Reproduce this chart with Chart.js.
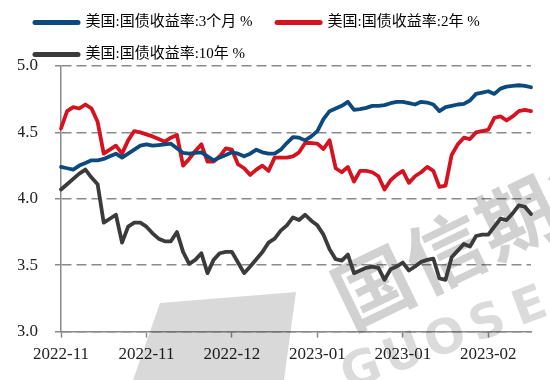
<!DOCTYPE html>
<html>
<head>
<meta charset="utf-8">
<script src="https://cdn.jsdelivr.net/npm/chart.js@4/dist/chart.umd.min.js"></script>
<style>
html,body{margin:0;padding:0;background:#fff;}
#wrap{width:550px;height:380px;position:relative;}
</style>
</head>
<body>
<div id="wrap"><canvas id="c"></canvas></div>
<script>
// ---- data ----
const dates = [
'2022-11-01','2022-11-02','2022-11-03','2022-11-04','2022-11-07','2022-11-08','2022-11-09','2022-11-10','2022-11-11','2022-11-14',
'2022-11-15','2022-11-16','2022-11-17','2022-11-18','2022-11-21','2022-11-22','2022-11-23','2022-11-25','2022-11-28','2022-11-29',
'2022-11-30','2022-12-01','2022-12-02','2022-12-05','2022-12-06','2022-12-07','2022-12-08','2022-12-09','2022-12-12','2022-12-13',
'2022-12-14','2022-12-15','2022-12-16','2022-12-19','2022-12-20','2022-12-21','2022-12-22','2022-12-23','2022-12-27','2022-12-28',
'2022-12-29','2022-12-30','2023-01-03','2023-01-04','2023-01-05','2023-01-06','2023-01-09','2023-01-10','2023-01-11','2023-01-12',
'2023-01-13','2023-01-17','2023-01-18','2023-01-19','2023-01-20','2023-01-23','2023-01-24','2023-01-25','2023-01-26','2023-01-27',
'2023-01-30','2023-01-31','2023-02-01','2023-02-02','2023-02-03','2023-02-06','2023-02-07','2023-02-08','2023-02-09','2023-02-10',
'2023-02-13','2023-02-14','2023-02-15','2023-02-16','2023-02-17','2023-02-21','2023-02-22','2023-02-23'
];
const tickStep = 14;

const seriesNames = ['美国:国债收益率:3个月 %', '美国:国债收益率:2年 %', '美国:国债收益率:10年 %'];

const yield3m = [
4.24,4.23,4.22,4.25,4.27,4.29,4.29,4.30,4.32,4.34,
4.31,4.34,4.37,4.40,4.41,4.40,4.405,4.41,4.415,4.38,
4.345,4.34,4.345,4.35,4.32,4.29,4.31,4.33,4.35,4.34,
4.32,4.34,4.37,4.35,4.34,4.34,4.37,4.42,4.465,4.46,
4.44,4.47,4.51,4.60,4.66,4.68,4.70,4.73,4.67,4.675,
4.685,4.70,4.70,4.705,4.72,4.73,4.73,4.72,4.71,4.73,
4.725,4.71,4.66,4.69,4.70,4.71,4.715,4.74,4.79,4.80,
4.81,4.79,4.83,4.845,4.85,4.855,4.85,4.84
];

const yield2y = [
4.53,4.66,4.69,4.68,4.71,4.68,4.58,4.34,4.37,4.40,
4.34,4.44,4.51,4.50,4.485,4.47,4.45,4.43,4.46,4.48,
4.25,4.30,4.36,4.41,4.28,4.28,4.32,4.38,4.37,4.26,
4.23,4.18,4.22,4.25,4.21,4.31,4.31,4.31,4.32,4.35,
4.42,4.42,4.415,4.375,4.44,4.23,4.20,4.24,4.13,4.21,
4.21,4.20,4.17,4.07,4.14,4.18,4.21,4.12,4.17,4.20,
4.24,4.21,4.09,4.10,4.33,4.41,4.46,4.45,4.50,4.51,
4.52,4.61,4.62,4.59,4.62,4.66,4.67,4.66
];

const yield10y = [
4.07,4.11,4.15,4.19,4.22,4.16,4.11,3.82,3.85,3.88,
3.67,3.79,3.82,3.82,3.79,3.74,3.70,3.68,3.68,3.75,
3.60,3.51,3.54,3.59,3.44,3.54,3.59,3.60,3.60,3.52,
3.44,3.49,3.545,3.60,3.67,3.70,3.76,3.80,3.86,3.84,
3.88,3.835,3.80,3.73,3.62,3.545,3.535,3.58,3.44,3.46,
3.48,3.49,3.48,3.39,3.47,3.49,3.52,3.46,3.49,3.525,
3.54,3.55,3.40,3.39,3.56,3.61,3.66,3.64,3.72,3.73,
3.73,3.79,3.85,3.84,3.89,3.95,3.94,3.885
];

const seriesColors = ['#0c4a7e', '#d5121f', '#3b3b3b'];
const yMin = 3.0, yMax = 5.0, yStep = 0.5;

// ---- watermark (light gray logo drawn under the lines) ----
const watermark = {
  id: 'watermark',
  beforeDatasetsDraw(chart) {
    const ctx = chart.ctx;
    ctx.save();
    ctx.fillStyle = 'rgba(0,0,0,0.15)';
    ctx.beginPath();
    ctx.moveTo(160, 303);
    ctx.lineTo(296, 292);
    ctx.lineTo(284, 380);
    ctx.lineTo(133, 380);
    ctx.closePath();
    ctx.fill();
    ctx.restore();

    ctx.save();
    ctx.fillStyle = 'rgba(0,0,0,0.18)';
    ctx.translate(373, 287);
    ctx.rotate(-0.45);
    ctx.font = 'bold 78px "Noto Sans CJK SC"';
    ctx.textAlign = 'center';
    ctx.textBaseline = 'middle';
    ['国', '信', '期', '货'].forEach((ch, i) => ctx.fillText(ch, i * 80, 0));
    ctx.restore();

    ctx.save();
    ctx.fillStyle = 'rgba(0,0,0,0.14)';
    ctx.translate(362, 372);
    ctx.rotate(-0.36);
    ctx.font = 'bold 48px "DejaVu Sans"';
    ctx.textAlign = 'center';
    ctx.textBaseline = 'middle';
    'GUOSEN'.split('').forEach((ch, i) => ctx.fillText(ch, i * 45, 0));
    ctx.restore();
  }
};

const tickFont = { family: "'Liberation Serif', 'Times New Roman', serif", size: 17 };
const gridGray = '#8a8a8a';
const legendHeight = 68;

const chart = new Chart(document.getElementById('c'), {
  type: 'line',
  data: {
    labels: dates,
    datasets: [
      { label: seriesNames[0], data: yield3m, borderColor: seriesColors[0], backgroundColor: seriesColors[0] },
      { label: seriesNames[1], data: yield2y, borderColor: seriesColors[1], backgroundColor: seriesColors[1] },
      { label: seriesNames[2], data: yield10y, borderColor: seriesColors[2], backgroundColor: seriesColors[2] }
    ]
  },
  options: {
    responsive: true,
    maintainAspectRatio: false,
    animation: false,
    datasets: {
      line: { borderWidth: 3.8, pointRadius: 0, tension: 0, borderJoinStyle: 'round', borderCapStyle: 'round', fill: false }
    },
    layout: { padding: { left: 18, right: 19, top: -2, bottom: 8 } },
    plugins: {
      tooltip: { enabled: false },
      legend: {
        position: 'top',
        align: 'start',
        labels: {
          usePointStyle: true,
          pointStyle: 'line',
          pointStyleWidth: 43,
          boxHeight: 15,
          padding: 17,
          color: '#222',
          font: { family: "'Liberation Serif', 'Noto Sans CJK SC', serif", size: 15 },
          generateLabels: chart => chart.data.datasets.map((ds, i) => ({
            text: i === 0 ? ds.label + '\u2002' : ds.label,
            fillStyle: ds.borderColor,
            strokeStyle: ds.borderColor,
            lineWidth: 5,
            lineCap: 'round',
            pointStyle: 'line',
            hidden: false,
            datasetIndex: i
          }))
        }
      }
    },
    scales: {
      x: {
        type: 'category',
        offset: false,
        grid: { display: true, drawOnChartArea: false, drawTicks: true, tickLength: 6, tickColor: gridGray, tickWidth: 1.5 },
        border: { display: true, color: gridGray, width: 1.5 },
        afterBuildTicks: axis => { axis.ticks = axis.ticks.filter(t => t.value % tickStep === 0); },
        ticks: {
          autoSkip: false, maxRotation: 0, minRotation: 0, padding: 7, color: '#222', font: tickFont,
          callback: v => dates[v].slice(0, 7)
        }
      },
      y: {
        min: yMin, max: yMax,
        grid: { display: true, color: gridGray, lineWidth: 1.5, drawTicks: true, tickLength: 6, tickColor: gridGray, tickWidth: 1.5 },
        border: { display: true, color: gridGray, width: 1.5, dash: [10, 5] },
        afterFit: s => { s.width = 43; },
        ticks: {
          stepSize: yStep, padding: 17, color: '#222', font: tickFont,
          callback: v => Number(v).toFixed(1)
        }
      }
    }
  },
  plugins: [watermark]
});

// keep the legend block at a fixed height so the plot starts where the reference does
const lg = chart.legend;
const origFit = lg.fit.bind(lg);
lg.fit = function () { origFit(); this.height = legendHeight; };
chart.update('none');
</script>
</body>
</html>
